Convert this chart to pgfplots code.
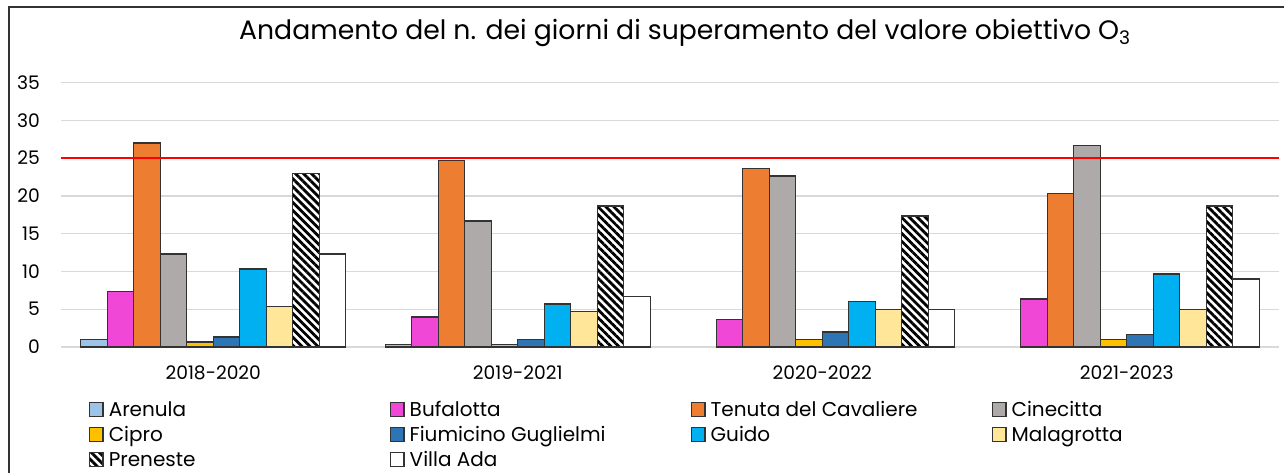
\documentclass[border=0pt]{standalone}
\usepackage{fontspec}
\setmainfont{Poppins}
\usepackage{pgfplots}
\pgfplotsset{compat=1.18}
\usetikzlibrary{patterns.meta}

\definecolor{cArenula}{HTML}{9DC3E6}
\definecolor{cBufalotta}{HTML}{F047D6}
\definecolor{cTenuta}{HTML}{ED7D31}
\definecolor{cCinecitta}{HTML}{AEAAAA}
\definecolor{cCipro}{HTML}{FFC000}
\definecolor{cFiumicino}{HTML}{2E75B6}
\definecolor{cGuido}{HTML}{00B0F0}
\definecolor{cMalagrotta}{HTML}{FFE699}
\definecolor{gridgray}{HTML}{D9D9D9}

\pgfplotsset{
  barbase/.style={draw=black!80, line width=1.1pt},
}
\newcommand{\lbl}[1]{\makebox[210.85pt][l]{#1}}

\begin{document}
\begin{tikzpicture}[x=1pt,y=1pt]
\path[use as bounding box] (0,0) rectangle (963,354);
\draw[black!80, line width=1.2pt] (6.75,-20) rectangle (990,348.75);
\node[anchor=base, inner sep=0pt, font=\fontsize{20}{23}\selectfont] at (513.75,324)
  {Andamento del n. dei giorni di superamento del valore obiettivo O\textsubscript{3}};
\begin{axis}[
  at={(45.75pt,93.75pt)}, anchor=south west,
  scale only axis, width=913.5pt, height=198.2pt,
  ybar=0pt, bar width=19.875pt,
  xmin=-0.5, xmax=3.5, ymin=0, ymax=35,
  xtick={0,1,2,3},
  xticklabels={2018-2020,2019-2021,2020-2022,2021-2023},
  ytick={0,5,...,35},
  ymajorgrids, grid style={gridgray, line width=1pt},
  axis line style={draw=none},
  major tick length=0pt,
  tick label style={font=\fontsize{14}{16}\selectfont, inner sep=0pt,
    /pgf/number format/assume math mode=true},
  yticklabel style={anchor=base east, xshift=-15.75pt, yshift=-4.9pt},
  xticklabel style={anchor=base, yshift=-24.2pt},
  legend columns=4,
  legend style={at={(axis description cs:0.023,-0.2056)}, anchor=north west,
    draw=none, fill=none, inner sep=0pt, outer sep=0pt,
    row sep=3.75pt, column sep=0pt,
    font=\fontsize{15}{17}\selectfont,
    nodes={inner sep=0pt, outer sep=0pt, text height=11pt, text depth=4pt, anchor=base west},
    /tikz/every odd column/.style={column sep=3.75pt}},
  legend image code/.code={\draw[#1] (0pt,-0.5pt) rectangle (10pt,10pt);},
]
\addplot[barbase, fill=cArenula, bar shift=-89.44pt] coordinates {(0,1.0) (1,0.33)};
\addlegendentry{\lbl{Arenula}}
\addplot[barbase, fill=cBufalotta, bar shift=-69.56pt] coordinates {(0,7.33) (1,4.0) (2,3.67) (3,6.33)};
\addlegendentry{\lbl{Bufalotta}}
\addplot[barbase, fill=cTenuta, bar shift=-49.69pt] coordinates {(0,27.0) (1,24.67) (2,23.67) (3,20.33)};
\addlegendentry{\lbl{Tenuta del Cavaliere}}
\addplot[barbase, fill=cCinecitta, bar shift=-29.81pt] coordinates {(0,12.33) (1,16.67) (2,22.67) (3,26.67)};
\addlegendentry{\lbl{Cinecitta}}
\addplot[barbase, fill=cCipro, bar shift=-9.94pt] coordinates {(0,0.67) (1,0.33) (2,1.0) (3,1.0)};
\addlegendentry{\lbl{Cipro}}
\addplot[barbase, fill=cFiumicino, bar shift=9.94pt] coordinates {(0,1.33) (1,1.0) (2,2.0) (3,1.67)};
\addlegendentry{\lbl{Fiumicino Guglielmi}}
\addplot[barbase, fill=cGuido, bar shift=29.81pt] coordinates {(0,10.33) (1,5.67) (2,6.0) (3,9.67)};
\addlegendentry{\lbl{Guido}}
\addplot[barbase, fill=cMalagrotta, bar shift=49.69pt] coordinates {(0,5.33) (1,4.67) (2,5.0) (3,5.0)};
\addlegendentry{\lbl{Malagrotta}}
\addplot[barbase, preaction={fill=white}, pattern={Lines[angle=-45, distance=4.2pt, line width=2.1pt]}, pattern color=black, bar shift=69.56pt] coordinates {(0,23.0) (1,18.67) (2,17.33) (3,18.67)};
\addlegendentry{\lbl{Preneste}}
\addplot[barbase, fill=white, bar shift=89.44pt] coordinates {(0,12.33) (1,6.67) (2,5.0) (3,9.0)};
\addlegendentry{\lbl{Villa Ada}}
\addplot[red, line width=1.5pt, sharp plot, forget plot] coordinates {(-0.5,25) (3.5,25)};
\end{axis}
\end{tikzpicture}
\end{document}
